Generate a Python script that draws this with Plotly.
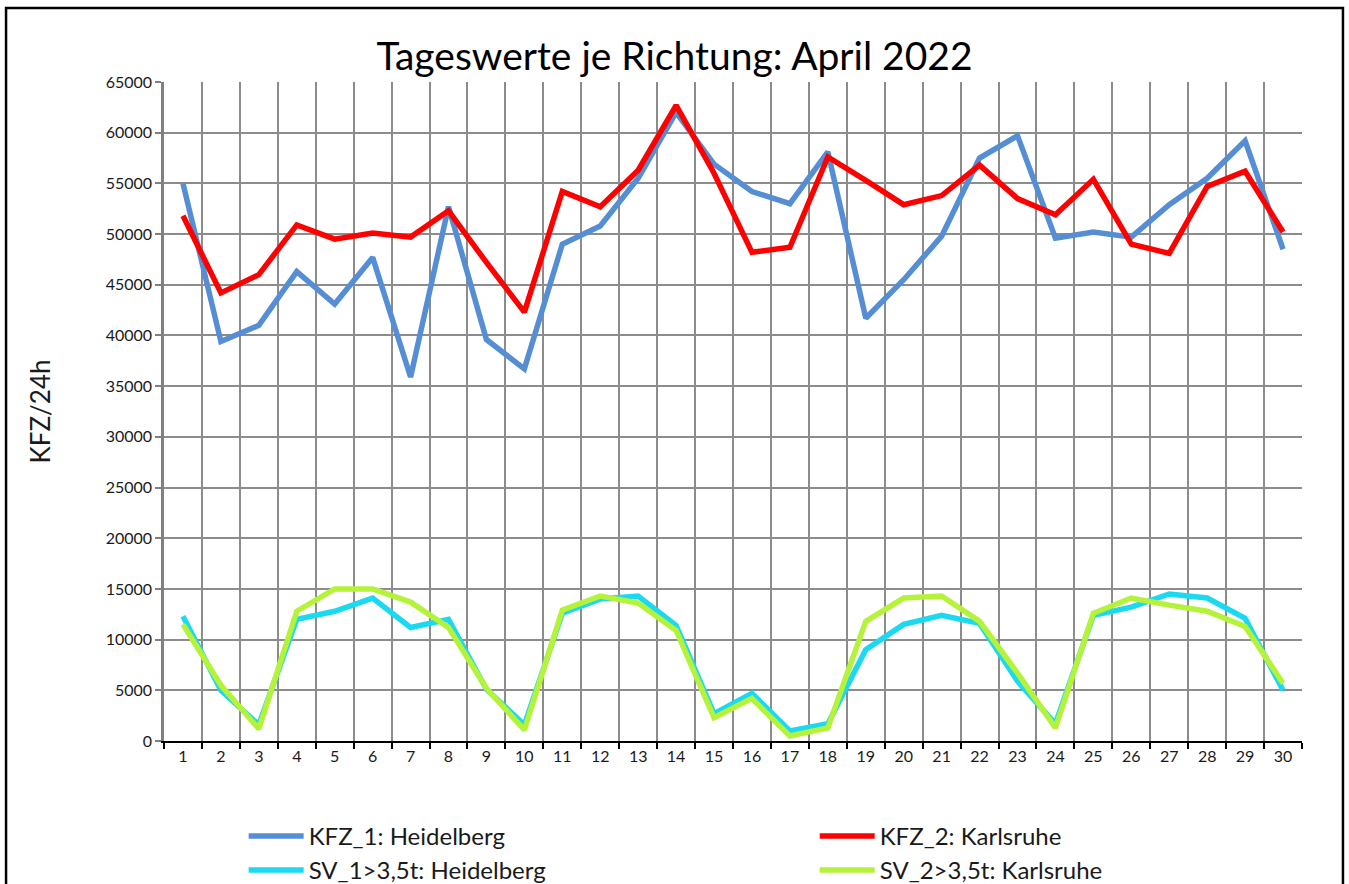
import plotly.graph_objects as go

# ── Daten ──────────────────────────────────────────────────────────────────────
days = [str(d) for d in range(1, 31)]

kfz_1 = [55000, 39400, 41000, 46300, 43100, 47700, 35900, 52700, 39600, 36700,
         49000, 50800, 55500, 62000, 56900, 54200, 53000, 58100, 41700, 45500,
         49800, 57500, 59700, 49600, 50200, 49700, 52900, 55500, 59200, 48500]
kfz_2 = [51800, 44200, 46000, 50900, 49500, 50100, 49700, 52300, 47200, 42300,
         54200, 52700, 56300, 62700, 56000, 48200, 48700, 57600, 55300, 52900,
         53800, 56800, 53500, 51900, 55400, 49000, 48100, 54700, 56200, 50200]
sv_1 = [12300, 5000, 1600, 12000, 12800, 14100, 11200, 12000, 5100, 1600,
        12600, 14000, 14300, 11400, 2700, 4700, 1000, 1700, 9000, 11500,
        12400, 11600, 5900, 1700, 12400, 13200, 14500, 14100, 12100, 5000]
sv_2 = [11500, 5500, 1200, 12800, 15000, 15000, 13700, 11200, 5200, 1100,
        12900, 14300, 13600, 10900, 2300, 4200, 500, 1300, 11800, 14100,
        14300, 11800, 6700, 1300, 12600, 14100, 13400, 12800, 11300, 5700]

y_ticks = list(range(0, 65001, 5000))

# (Name, Werte, Farbe, Legende) - Heidelberg links, Karlsruhe rechts
series = [
    ("KFZ_1: Heidelberg", kfz_1, "#558ED5", "legend"),
    ("KFZ_2: Karlsruhe", kfz_2, "#FF0000", "legend2"),
    ("SV_1>3,5t: Heidelberg", sv_1, "#1CD9F2", "legend"),
    ("SV_2>3,5t: Karlsruhe", sv_2, "#B5F23A", "legend2"),
]

FONT = "Lato, Carlito, Calibri, sans-serif"

fig = go.Figure()
for name, vals, color, leg in series:
    fig.add_trace(go.Scatter(
        x=days,
        y=vals,
        mode="lines",
        name=name,
        legend=leg,
        line=dict(color=color, width=5.5),
    ))

_LEGEND = dict(
    orientation="v",
    xanchor="left",
    y=-0.1105, yanchor="top",
    font=dict(size=24),
    itemwidth=55,
    tracegroupgap=0,
    bgcolor="rgba(0,0,0,0)",
)

fig.update_layout(
    width=1349,
    height=884,
    paper_bgcolor="white",
    plot_bgcolor="white",
    font=dict(family=FONT, color="#1a1a1a", size=16),
    margin=dict(l=164, r=47, t=82, b=143, autoexpand=False),
    title=dict(
        text="Tageswerte je Richtung: April 2022",
        x=0.5, xanchor="center",
        y=0.936, yanchor="middle",
        font=dict(size=39, color="#000000"),
    ),
    xaxis=dict(
        type="category",
        tickson="boundaries",
        showgrid=True,
        gridcolor="#8c8c8c",
        gridwidth=1.5,
        showline=True,
        linecolor="#000000",
        linewidth=2,
        ticks="outside",
        ticklen=6,
        tickcolor="#000000",
        tickwidth=1.5,
        tickfont=dict(size=16),
        range=[-0.5, 29.5],
    ),
    yaxis=dict(
        range=[0, 65000],
        tickvals=y_ticks,
        tickformat="d",
        showgrid=True,
        gridcolor="#8c8c8c",
        gridwidth=1.5,
        showline=True,
        linecolor="#808080",
        linewidth=2.5,
        ticks="outside",
        ticklen=6,
        tickcolor="#808080",
        tickwidth=1.5,
        tickfont=dict(size=16),
        zeroline=False,
        title=dict(text="KFZ/24h", font=dict(size=26), standoff=48),
    ),
    legend=dict(_LEGEND, x=0.07),
    legend2=dict(_LEGEND, x=0.5718),
    showlegend=True,
)

# Rahmen um das gesamte Diagramm
fig.add_shape(
    type="rect", xref="paper", yref="paper",
    x0=-0.1388, x1=1.036, y0=-0.5, y1=1.1123,
    line=dict(color="#000000", width=2.5),
    fillcolor="rgba(0,0,0,0)",
    layer="below",
)

fig.write_html(
    "out.html",
    config={"displayModeBar": False},
    post_script="document.body.style.margin = '0px';",
)
